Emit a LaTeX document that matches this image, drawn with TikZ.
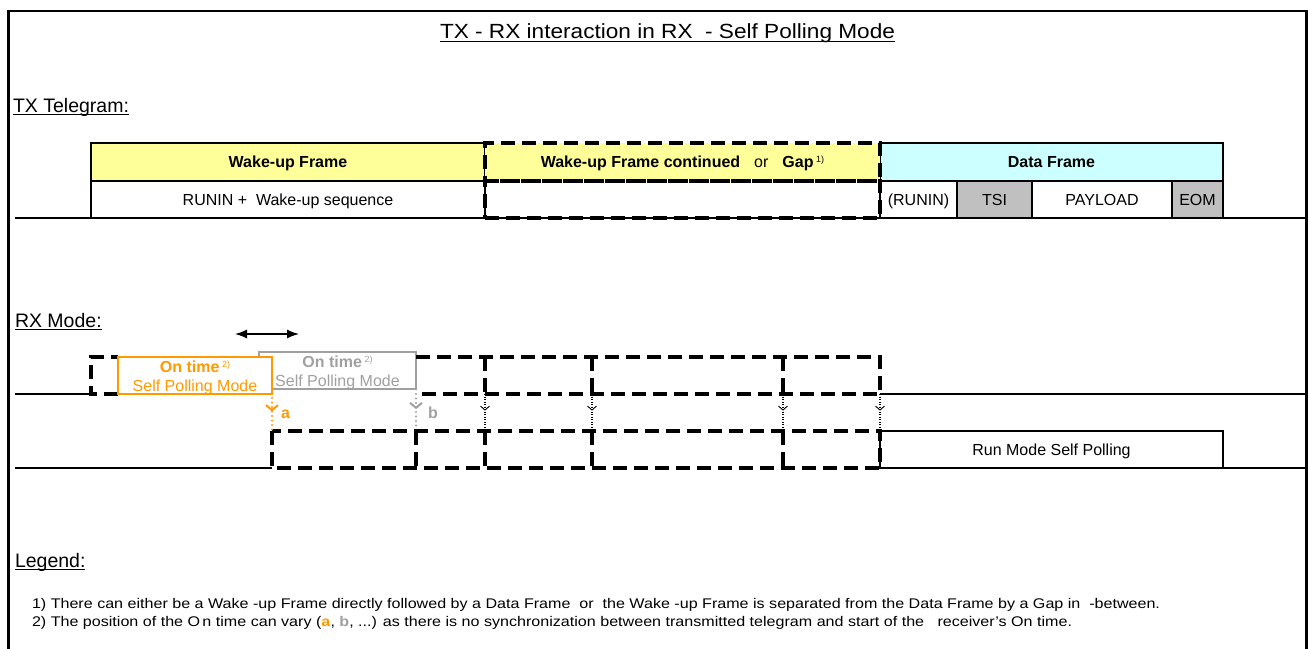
\documentclass[tikz,border=0pt]{standalone}
\usepackage{fontspec}
\setmainfont{Liberation Sans}
\usepackage{graphicx}
\usetikzlibrary{arrows.meta,decorations.markings}
\definecolor{wyel}{HTML}{FFFF99}
\definecolor{dcyan}{HTML}{CCFFFF}
\definecolor{cgray}{HTML}{C0C0C0}
\definecolor{orng}{HTML}{FF9900}
\definecolor{ogray}{HTML}{A0A0A0}
\newcommand\ulx[2][3pt]{\setbox0\hbox{#2}\rlap{\rule[-#1]{\wd0}{1.1pt}}\box0}
\newcommand\mysup[1]{\raisebox{5pt}{\fontsize{9}{9}\selectfont #1}}
\begin{document}
\begin{tikzpicture}[x=1pt,y=-1pt,
  every node/.style={inner sep=0pt, outer sep=0pt, font=\fontsize{16}{19}\selectfont},
  cell/.style={draw, line width=1.4pt, anchor=north west, text height=12pt, text depth=1pt},
  dsh/.style={draw, line width=3.1pt, dash pattern=on 14pt off 7pt},
  solidln/.style={line width=1.4pt},
  sect/.style={anchor=base west, font=\fontsize{19.5}{22}\selectfont},
  odot/.style={draw=orng, line width=2.4pt, line cap=round, dash pattern=on 0pt off 4.5pt,
    postaction={decorate}, decoration={markings, mark=at position 0.42 with {\arrow[orng, line width=2pt, solid]{Straight Barb[length=5pt, width=12pt]}}}},
  gdot/.style={draw=ogray, line width=2.4pt, line cap=round, dash pattern=on 0pt off 4.5pt,
    postaction={decorate}, decoration={markings, mark=at position 0.42 with {\arrow[ogray, line width=2pt, solid]{Straight Barb[length=5pt, width=12pt]}}}},
  bdot/.style={draw=black, line width=1.2pt, dash pattern=on 1.2pt off 1.3pt,
    postaction={decorate}, decoration={markings, mark=at position 0.45 with {\arrow[black, line width=0.9pt, solid]{Straight Barb[length=4pt, width=9pt]}}}}
]
\useasboundingbox (0,0) rectangle (1308,648);
% outer frame
\draw[line width=2.6pt] (8.3,652) -- (8.3,11) -- (1306.5,11) -- (1306.5,652);
% title
\node[anchor=base] (title) at (667.5,38) {\fontsize{20.5}{24}\selectfont\ulx[4pt]{\resizebox{455pt}{\height}{TX - RX interaction in RX\ \ - Self Polling Mode}}};
% section labels
\node[sect] (txlab) at (13,112) {\ulx{TX Telegram:}};
\node[sect] (rxlab) at (15,327) {\ulx{RX Mode:}};
\node[sect] (leglab) at (15,567) {\ulx{Legend:}};

% ---------------- TX telegram ----------------
\draw[solidln] (15,218) -- (1306,218);
\node[cell, fill=wyel, minimum width=394pt, minimum height=38pt] (wuf) at (91,143) {\textbf{Wake-up Frame}};
\node[cell, fill=white, minimum width=394pt, minimum height=37pt] (runin) at (91,181) {RUNIN +\ \ Wake-up sequence};
\node[cell, fill=dcyan, minimum width=343pt, minimum height=38pt] (df) at (880,143) {\textbf{Data Frame}};
\node[cell, fill=white, minimum width=77pt, minimum height=37pt] (drun) at (880,181) {(RUNIN)};
\node[cell, fill=cgray, minimum width=75pt, minimum height=37pt] (tsi) at (957,181) {TSI};
\node[cell, fill=white, minimum width=140pt, minimum height=37pt] (pay) at (1032,181) {PAYLOAD};
\node[cell, fill=cgray, minimum width=51pt, minimum height=37pt] (eom) at (1172,181) {EOM};
\node[cell, dsh, fill=wyel, minimum width=395pt, minimum height=38pt] (gaph) at (485,143) {\textbf{Wake-up Frame continued}\hspace{14pt}or\hspace{14pt}\textbf{Gap}\,\mysup{1)}};
\node[cell, dsh, fill=none, minimum width=395pt, minimum height=37pt] (gapb) at (485,181) {};

% ---------------- RX mode ----------------
\coordinate (al) at (235,334);
\coordinate (ar) at (299,334);
\draw[line width=1.3pt, {Latex[length=12pt,width=9pt]}-{Latex[length=12pt,width=9pt]}] (al) -- (ar);

% upper row
\draw[solidln] (15,394) -- (91,394);
\draw[dsh] (118,394) -- (91,394) -- (91,357) -- (118,357);
\node[draw=ogray, line width=2pt, anchor=north west, minimum width=157pt, minimum height=37pt] (gbox) at (259,352) {};
\node[anchor=base, text=ogray] (gt1) at (337.5,367) {\textbf{On time}\,\mysup{2)}};
\node[anchor=base, text=ogray] (gt2) at (337.5,386) {Self Polling Mode};
\node[draw=orng, fill=white, line width=2pt, anchor=north west, minimum width=154pt, minimum height=37pt] (obox) at (118,357) {};
\node[anchor=base, text=orng] (ot1) at (195,372) {\textbf{On time}\,\mysup{2)}};
\node[anchor=base, text=orng] (ot2) at (195,391) {Self Polling Mode};
\draw[dsh] (416,357) -- (880,357) -- (880,394) -- (416,394);
\draw[dsh] (485,357) -- (485,394);
\draw[dsh] (592,357) -- (592,394);
\draw[dsh] (783,357) -- (783,394);
\draw[solidln] (880,394) -- (1306,394);

% lower row
\draw[solidln] (15,468) -- (272,468);
\node[cell, minimum width=343pt, minimum height=37pt] (run) at (880,431) {Run Mode Self Polling};
\draw[solidln] (1223,468) -- (1306,468);
\draw[dsh] (272,431) rectangle (880,468);
\draw[dsh] (416,431) -- (416,468);
\draw[dsh] (485,431) -- (485,468);
\draw[dsh] (592,431) -- (592,468);
\draw[dsh] (783,431) -- (783,468);

% transition arrows
\coordinate (ua) at (272,398); \coordinate (la) at (272,430);
\coordinate (ub) at (416,394); \coordinate (lb) at (416,430);
\coordinate (u3) at (485,394); \coordinate (l3) at (485,431);
\coordinate (u4) at (592,394); \coordinate (l4) at (592,431);
\coordinate (u5) at (783,394); \coordinate (l5) at (783,431);
\coordinate (u6) at (880,394); \coordinate (l6) at (880,431);
\draw[odot] (ua) -- (la);
\draw[gdot] (ub) -- (lb);
\draw[bdot] (u3) -- (l3);
\draw[bdot] (u4) -- (l4);
\draw[bdot] (u5) -- (l5);
\draw[bdot] (u6) -- (l6);
\node[anchor=base west, text=orng] (la_t) at (281,418) {\textbf{a}};
\node[anchor=base west, text=ogray] (lb_t) at (428,418) {\textbf{b}};

% ---------------- legend ----------------
\node[anchor=base west] (leg1) at (32,608) {\fontsize{14}{16}\selectfont\resizebox{1128pt}{\height}{1) There can either be a Wake -up Frame directly followed by a Data Frame\ \ or\ \ the Wake -up Frame is separated from the Data Frame by a Gap in\ \ -between.}};
\node[anchor=base west] (leg2) at (32,626) {\fontsize{14}{16}\selectfont\resizebox{1040pt}{\height}{2) The position of the O\kern2pt n time can vary ({\color{orng}\textbf{a}}, {\color{ogray}\textbf{b}}, ...) as there is no synchronization between transmitted telegram and start of the\ \ \ receiver's On time.}};
\end{tikzpicture}
\end{document}
